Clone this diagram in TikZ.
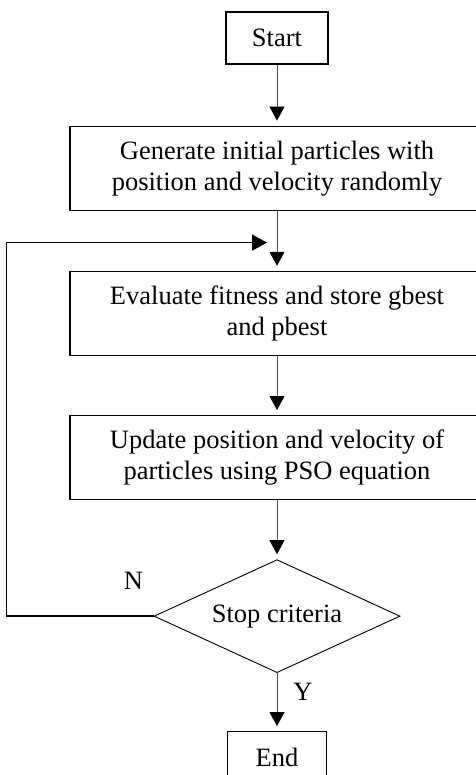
\documentclass[tikz,border=0pt]{standalone}
\usepackage{fontspec}
\setmainfont{Liberation Serif}
\usetikzlibrary{arrows.meta,positioning,calc,shapes.geometric}
\tikzset{
  boxtext/.style={font=\fontsize{26.5}{31}\selectfont},
  flowbox/.style={boxtext,draw=black,line width=1.2pt,minimum width=414pt,minimum height=84pt,align=center,inner sep=0pt},
  termbox/.style={boxtext,draw=black,line width=1.2pt,minimum width=102pt,minimum height=52pt,inner sep=0pt},
  decide/.style={boxtext,diamond,aspect=2.18,draw=black,line width=0.9pt,minimum width=246pt,minimum height=113pt,inner sep=0pt},
  flowarrow/.style={-{Triangle[length=14pt,width=15pt,black]},line width=0.8pt,black!70,shorten >=5pt},
  backarrow/.style={-{Triangle[length=15pt,width=16pt]},line width=1.8pt,black},
  lbl/.style={boxtext},
}

\begin{document}
\begin{tikzpicture}[x=1pt,y=1pt,node distance=59pt]
  \useasboundingbox (0,0) rectangle (475,-775);
  \node[termbox] (start) at (277,-38) {Start};
  \node[flowbox,below=61pt of start] (gen) {Generate initial particles with\\position and velocity randomly};
  \node[flowbox,below=60pt of gen] (eval) {Evaluate fitness and store gbest\\and pbest};
  \node[flowbox,below=59pt of eval] (upd) {Update position and velocity of\\particles using PSO equation};
  \node[decide,below=59pt of upd] (dec) {Stop criteria};
  \node[termbox,below=58pt of dec,minimum width=99pt] (end) {End};
  % yes / no labels
  \node[lbl] (nlab) at ($(dec.west)+(-20,35)$) {N};
  \node[lbl] (ylab) at ($(dec.south)+(26,-19)$) {Y};
  % main flow
  \draw[flowarrow] (start) -- (gen);
  \draw[flowarrow] (gen) -- (eval);
  \draw[flowarrow] (eval) -- (upd);
  \draw[flowarrow] (upd) -- (dec);
  \draw[flowarrow] (dec) -- (end);
  % loop back when not done
  \coordinate (loopin) at ($(gen.south)!0.53!(eval.north)+(-10,0)$);
  \draw[backarrow] (dec.west) -- ++(-147,0) |- (loopin);
\end{tikzpicture}
\end{document}
